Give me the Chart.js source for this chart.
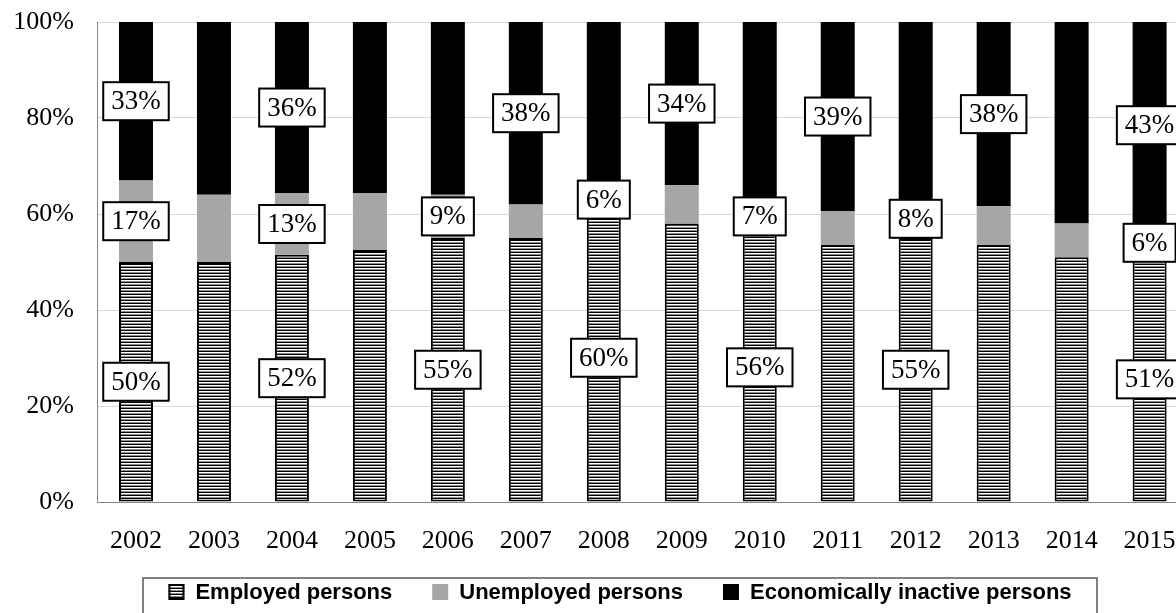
<!DOCTYPE html>
<html>
<head>
<meta charset="utf-8">
<script src="https://cdn.jsdelivr.net/npm/chart.js@4/dist/chart.umd.min.js"></script>
<style>
  html, body { margin: 0; padding: 0; background: #fff; overflow: hidden; }
  #wrap { width: 1200px; height: 613px; }
</style>
</head>
<body>
<div id="wrap"><canvas id="chart" width="1200" height="613"></canvas></div>
<script>
// Population structure by labour status, share of total (%)
const years = ['2002','2003','2004','2005','2006','2007','2008','2009','2010','2011','2012','2013','2014','2015'];
const employed   = [50, 50, 52, 53, 55, 55, 60, 58, 56, 53, 55, 53, 51, 51];
const unemployed = [17, 14, 13, 12,  9,  7,  6,  8,  7,  7,  8,  8,  7,  6];
const inactive   = [33, 36, 36, 36, 36, 38, 34, 34, 37, 39, 37, 38, 42, 43];
const yTicks = [0, 20, 40, 60, 80, 100];

// Years whose segment carries a value label
const employedLabelYears   = ['2002','2004','2006','2008','2010','2012','2015'];
const unemployedLabelYears = ['2002','2004','2006','2008','2010','2012','2015'];
const inactiveLabelYears   = ['2002','2004','2007','2009','2011','2013','2015'];

const seriesNames = ['Employed persons', 'Unemployed persons', 'Economically inactive persons'];

// 100% stacked: each bar is scaled to its own total
const totals = years.map((_, i) => employed[i] + unemployed[i] + inactive[i]);
const share = arr => arr.map((v, i) => v * 100 / totals[i]);

// Horizontal line hatch used for the employed series
function makeHatch() {
  const c = document.createElement('canvas');
  c.width = 4; c.height = 3;
  const g = c.getContext('2d');
  g.fillStyle = '#ffffff'; g.fillRect(0, 0, 4, 3);
  g.fillStyle = '#000000'; g.fillRect(0, 0, 4, 1);
  g.fillStyle = '#8c8c8c'; g.fillRect(0, 2, 4, 1);
  return g.createPattern(c, 'repeat');
}
const hatch = makeHatch();

const rawSeries = [employed, unemployed, inactive];
const labelYears = [employedLabelYears, unemployedLabelYears, inactiveLabelYears];

// Boxed value labels centred on their segments
const valueLabels = {
  id: 'valueLabels',
  afterDatasetsDraw(chart) {
    const ctx = chart.ctx;
    ctx.save();
    ctx.font = "27px 'Liberation Serif', 'Times New Roman', serif";
    ctx.textAlign = 'center';
    ctx.textBaseline = 'middle';
    chart.data.datasets.forEach((ds, di) => {
      const meta = chart.getDatasetMeta(di);
      meta.data.forEach((bar, i) => {
        if (!labelYears[di].includes(years[i])) return;
        const text = rawSeries[di][i] + '%';
        const cx = bar.x;
        const cy = (bar.y + bar.base) / 2;
        const w = ctx.measureText(text).width + 16;
        const h = 38;
        ctx.fillStyle = '#ffffff';
        ctx.fillRect(cx - w / 2, cy - h / 2, w, h);
        ctx.lineWidth = 2;
        ctx.strokeStyle = '#000000';
        ctx.strokeRect(cx - w / 2, cy - h / 2, w, h);
        ctx.fillStyle = '#000000';
        ctx.fillText(text, cx, cy + 1);
      });
    });
    ctx.restore();
  }
};

// Framed legend under the axis
const framedLegend = {
  id: 'framedLegend',
  afterDraw(chart) {
    const ctx = chart.ctx;
    const boxL = 143, boxR = 1097, boxT = 578, midY = 592;
    const marker = 16, gapText = 11, gapItem = 40;
    ctx.save();
    ctx.strokeStyle = '#595959';
    ctx.lineWidth = 1.5;
    ctx.strokeRect(boxL, boxT, boxR - boxL, 60);
    ctx.font = "bold 22px 'Liberation Sans', Arial, sans-serif";
    ctx.textBaseline = 'middle';
    ctx.textAlign = 'left';
    const widths = seriesNames.map(n => ctx.measureText(n).width);
    const total = widths.reduce((a, b) => a + b, 0) + seriesNames.length * (marker + gapText) + (seriesNames.length - 1) * gapItem;
    let x = (boxL + boxR) / 2 - total / 2;
    chart.data.datasets.forEach((ds, i) => {
      const y0 = midY - marker / 2;
      ctx.fillStyle = ds.backgroundColor;
      ctx.fillRect(x, y0, marker, marker);
      if (ds.borderWidth) {
        ctx.lineWidth = 2;
        ctx.strokeStyle = '#000';
        ctx.strokeRect(x + 1, y0 + 1, marker - 2, marker - 2);
      }
      ctx.fillStyle = '#000';
      ctx.fillText(seriesNames[i], x + marker + gapText, midY + 1);
      x += marker + gapText + widths[i] + gapItem;
    });
    ctx.restore();
  }
};

Chart.defaults.font.family = "'Liberation Serif', 'Times New Roman', serif";
Chart.defaults.color = '#000';

new Chart(document.getElementById('chart'), {
  type: 'bar',
  data: {
    labels: years,
    datasets: [
      { label: seriesNames[0], data: share(employed), backgroundColor: hatch, borderColor: '#000', borderWidth: 2, borderSkipped: false },
      { label: seriesNames[1], data: share(unemployed), backgroundColor: '#a6a6a6', borderWidth: 0 },
      { label: seriesNames[2], data: share(inactive), backgroundColor: '#000000', borderWidth: 0 }
    ]
  },
  options: {
    responsive: false,
    devicePixelRatio: 1,
    animation: false,
    layout: { padding: { left: 13, right: 11, top: 22, bottom: 31 } },
    datasets: { bar: { categoryPercentage: 1, barPercentage: 0.436 } },
    plugins: { legend: { display: false }, tooltip: { enabled: false } },
    scales: {
      x: {
        stacked: true,
        grid: { display: false, drawTicks: false },
        border: { display: true, color: '#868686', width: 1 },
        ticks: { font: { size: 26 }, padding: 24, maxRotation: 0 },
        afterFit: axis => { axis.height = 80; }
      },
      y: {
        stacked: true,
        min: 0, max: 100,
        afterBuildTicks: axis => { axis.ticks = yTicks.map(v => ({ value: v })); },
        grid: { color: '#d9d9d9', lineWidth: 1, drawTicks: false },
        border: { display: true, color: '#868686', width: 1 },
        ticks: { font: { size: 26 }, padding: 23, callback: v => v + '%' },
        afterFit: axis => { axis.width = 84; axis.paddingTop = 0; axis.paddingBottom = 0; }
      }
    }
  },
  plugins: [valueLabels, framedLegend]
});
</script>
</body>
</html>
